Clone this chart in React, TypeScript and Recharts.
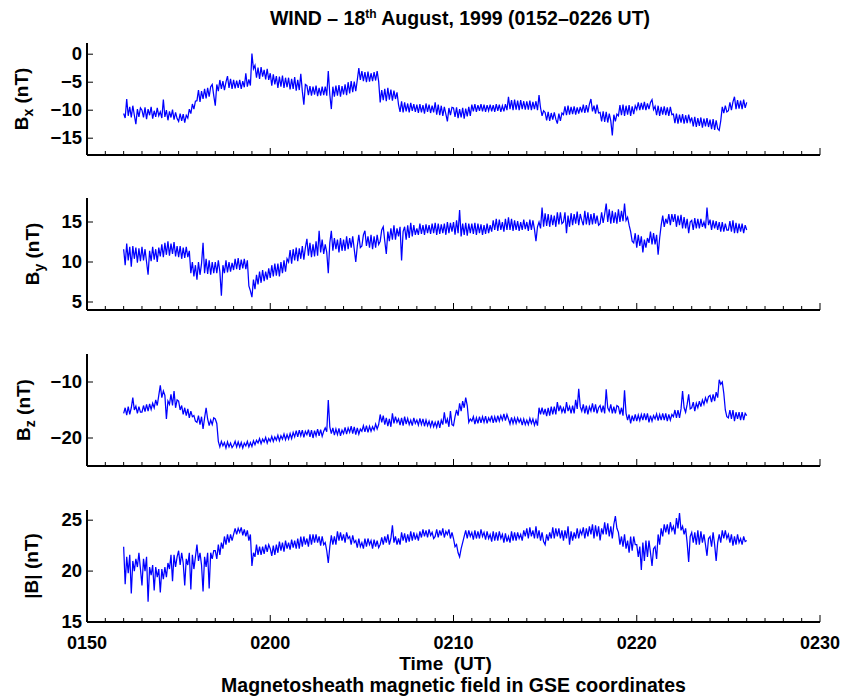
import React from 'react';
import { LineChart, Line, XAxis, YAxis } from 'recharts';

const FONT = '"Liberation Sans", Arial, Helvetica, sans-serif';

// time axis in minutes after 00:00 UT, one sample every 5 s from 01:52
const START_MIN = 112;
const STEP_MIN = 1 / 12;

const MAJOR_TICKS = [110, 120, 130, 140, 150];
const MINUTE_TICKS = Array.from({ length: 41 }, (_, i) => 110 + i);

// values, 12 samples per minute (0152 ... 0226)
const bx = [
  -10.6, -11.4, -8.0, -11.0, -9.4, -11.3, -9.2, -10.9, -12.5, -9.8, -11.2, -9.6,
  -10.0, -11.3, -9.5, -11.6, -9.8, -10.9, -9.4, -11.5, -10.1, -11.2, -9.6, -11.0,
  -10.3, -11.4, -8.1, -11.2, -10.0, -11.8, -10.2, -11.3, -9.9, -11.7, -10.4, -11.5,
  -12.0, -10.6, -11.9, -10.7, -12.2, -10.9, -11.4, -9.8, -10.6, -8.9, -9.8, -8.4,
  -8.3, -6.4, -8.5, -6.6, -8.0, -6.2, -7.9, -6.0, -7.6, -5.8, -5.4, -7.4,
  -9.2, -5.4, -6.6, -4.6, -6.2, -4.8, -6.4, -5.0, -3.9, -6.0, -4.4, -6.2,
  -4.6, -6.1, -4.7, -6.0, -4.6, -6.2, -4.8, -5.9, -3.4, -5.8, -4.5, -5.6,
  0.1, -2.6, -2.0, -4.2, -2.4, -4.4, -2.3, -4.0, -2.8, -4.5, -2.6, -4.6,
  -3.4, -5.6, -3.6, -5.4, -3.9, -6.0, -4.0, -5.8, -3.8, -6.0, -4.2, -5.9,
  -4.2, -6.3, -4.4, -6.2, -4.1, -6.5, -4.6, -6.4, -3.5, -6.6, -9.0, -5.4,
  -5.6, -7.3, -5.7, -7.4, -5.8, -7.2, -5.6, -7.5, -6.0, -7.4, -5.8, -7.3,
  -5.8, -7.4, -3.0, -7.2, -9.8, -5.8, -7.6, -5.6, -7.4, -5.5, -7.6, -5.7,
  -7.2, -5.4, -7.3, -5.0, -7.0, -4.8, -6.8, -4.9, -6.6, -4.6, -2.5, -4.6,
  -3.0, -4.8, -3.2, -5.0, -3.1, -4.9, -3.4, -4.8, -3.2, -4.7, -3.0, -4.9,
  -8.6, -6.4, -8.2, -6.2, -8.4, -6.0, -8.1, -6.3, -8.3, -6.5, -8.0, -6.8,
  -9.0, -10.3, -8.4, -10.4, -8.6, -10.2, -8.8, -10.4, -8.7, -10.1, -8.9, -10.3,
  -9.0, -10.5, -8.9, -10.4, -9.1, -10.6, -8.8, -10.3, -9.0, -10.5, -9.2, -10.4,
  -8.6, -10.8, -9.0, -10.9, -9.2, -11.0, -9.4, -10.7, -12.0, -9.6, -10.9, -9.5,
  -9.6, -11.2, -9.5, -11.4, -9.8, -11.3, -9.6, -11.5, -9.7, -11.1, -9.4, -11.0,
  -9.0, -10.2, -8.9, -10.3, -9.1, -10.1, -8.9, -10.2, -9.0, -10.3, -9.1, -10.1,
  -9.0, -10.2, -9.1, -10.3, -8.9, -10.1, -9.0, -10.3, -9.2, -10.2, -8.9, -10.0,
  -7.6, -9.8, -8.2, -10.0, -8.1, -9.9, -8.3, -10.0, -8.2, -9.8, -8.4, -9.9,
  -8.4, -9.9, -8.3, -10.0, -8.5, -9.8, -8.4, -10.0, -7.3, -9.6, -11.0, -10.1,
  -10.4, -11.8, -10.3, -11.9, -10.5, -11.7, -10.4, -11.6, -12.4, -10.6, -11.9, -10.5,
  -10.8, -9.3, -10.9, -9.2, -10.8, -9.4, -10.7, -9.3, -10.8, -9.5, -10.6, -9.4,
  -10.4, -9.0, -10.5, -9.1, -10.4, -8.9, -8.0, -10.2, -9.2, -10.6, -9.0, -10.5,
  -10.4, -12.0, -10.2, -12.1, -10.3, -12.2, -10.6, -11.9, -14.5, -10.8, -12.0, -10.7,
  -11.0, -9.1, -10.9, -9.0, -11.0, -9.2, -10.8, -9.1, -11.0, -9.3, -10.7, -9.2,
  -9.9, -8.6, -10.0, -8.7, -9.9, -8.5, -10.0, -8.8, -9.8, -8.6, -8.1, -9.9,
  -9.3, -10.9, -9.2, -11.0, -9.4, -10.8, -9.3, -10.9, -9.5, -11.0, -9.4, -10.8,
  -10.7, -12.3, -10.6, -12.4, -10.8, -12.2, -10.7, -12.4, -10.9, -12.3, -10.8, -12.1,
  -11.3, -12.9, -11.2, -13.0, -11.4, -12.8, -11.3, -13.1, -11.5, -12.9, -11.4, -13.0,
  -11.7, -13.4, -11.6, -13.5, -11.8, -13.3, -13.6, -11.9, -9.4, -10.5, -9.2, -10.3,
  -10.1, -8.6, -10.0, -8.5, -7.6, -9.8, -8.2, -9.7, -8.3, -9.8, -8.1, -9.6,
  -8.6,
];

const by = [
  11.6, 9.6, 12.3, 10.2, 11.9, 9.4, 12.0, 10.4, 11.8, 9.9, 11.7, 10.1,
  11.9, 10.2, 11.6, 10.0, 8.4, 11.4, 10.1, 11.9, 10.3, 11.6, 10.0, 11.8,
  10.7, 12.2, 10.6, 12.4, 10.9, 12.6, 10.8, 12.3, 11.0, 12.5, 10.7, 12.0,
  10.6, 12.0, 10.4, 11.8, 10.5, 11.9, 10.6, 11.4, 8.6, 10.0, 8.2, 9.6,
  7.8, 10.0, 8.4, 9.8, 12.4, 8.6, 10.4, 8.5, 10.2, 8.4, 10.0, 8.6,
  10.0, 8.6, 10.2, 8.8, 5.8, 9.6, 8.6, 10.2, 8.7, 10.0, 8.8, 9.9,
  9.0, 10.4, 9.1, 10.5, 9.0, 10.3, 9.2, 10.4, 9.1, 10.2, 7.0, 6.4,
  5.6, 7.8, 6.6, 8.4, 7.2, 8.8, 7.4, 9.0, 7.6, 8.8, 7.8, 9.2,
  8.0, 9.6, 8.2, 9.8, 8.3, 9.8, 8.2, 10.0, 8.6, 10.2, 8.8, 10.4,
  10.0, 11.5, 9.8, 11.6, 10.2, 11.8, 10.1, 11.7, 10.4, 12.0, 10.3, 11.8,
  12.9, 10.8, 12.4, 10.6, 12.2, 10.7, 12.6, 10.8, 13.9, 11.2, 12.8, 11.0,
  12.2, 11.2, 8.6, 12.4, 13.9, 11.4, 13.0, 11.6, 12.8, 11.2, 13.0, 11.4,
  12.8, 11.4, 13.2, 11.6, 13.0, 11.8, 13.2, 11.6, 10.0, 12.0, 13.4, 11.8,
  12.0, 13.4, 13.9, 12.0, 13.2, 11.8, 13.4, 11.6, 13.2, 11.8, 13.4, 12.2,
  12.6, 14.0, 14.4, 12.6, 11.0, 13.8, 12.6, 14.2, 12.8, 14.6, 12.8, 14.2,
  13.2, 14.4, 10.2, 13.8, 14.4, 12.8, 14.6, 13.0, 14.9, 13.2, 14.6, 13.4,
  14.2, 13.4, 14.8, 13.5, 14.6, 13.4, 14.7, 13.6, 14.6, 13.5, 14.8, 13.6,
  14.9, 13.4, 14.8, 13.5, 14.7, 13.6, 14.8, 13.4, 15.0, 13.6, 14.9, 13.8,
  15.0, 13.4, 15.2, 13.6, 16.5, 13.2, 14.8, 13.4, 14.9, 13.3, 14.8, 13.6,
  14.8, 13.5, 14.9, 13.4, 14.8, 13.6, 14.7, 13.4, 14.6, 13.5, 14.8, 13.6,
  14.6, 13.8, 15.2, 14.0, 15.4, 13.9, 15.3, 14.0, 15.0, 13.8, 15.4, 14.0,
  15.6, 14.0, 15.4, 13.9, 15.2, 14.0, 15.1, 13.9, 15.0, 14.0, 15.3, 14.1,
  15.0, 13.9, 15.3, 14.0, 15.2, 14.1, 12.6, 14.4, 15.0, 14.2, 16.8, 14.4,
  16.1, 14.5, 16.0, 14.4, 15.9, 14.6, 15.8, 14.4, 16.2, 14.7, 16.2, 14.8,
  15.0, 16.2, 13.6, 15.8, 14.4, 16.1, 14.6, 16.0, 14.8, 16.3, 14.6, 16.0,
  15.2, 14.6, 16.4, 14.7, 16.2, 14.6, 16.0, 14.7, 16.1, 14.8, 15.8, 14.6,
  14.8, 16.2, 14.9, 16.0, 17.3, 15.0, 16.6, 14.8, 16.4, 14.9, 16.2, 14.8,
  16.6, 15.0, 16.4, 15.1, 17.3, 15.2, 15.6, 14.6, 13.8, 12.6, 12.4, 13.6,
  11.8, 13.4, 12.0, 13.2, 11.2, 12.8, 11.8, 13.0, 12.4, 13.8, 12.2, 13.6,
  12.2, 13.4, 10.9, 13.0, 14.6, 15.8, 14.4, 15.4, 14.8, 16.0, 14.6, 16.0,
  15.0, 16.0, 14.4, 15.8, 14.6, 15.9, 14.2, 15.6, 14.2, 15.4, 13.6, 15.0,
  15.2, 14.0, 15.5, 14.2, 15.4, 14.2, 15.4, 14.4, 15.0, 14.2, 16.8, 14.6,
  15.3, 14.0, 15.2, 14.2, 15.1, 14.0, 15.0, 13.8, 15.0, 13.8, 14.8, 14.0,
  14.0, 15.1, 13.8, 15.2, 13.6, 14.9, 13.6, 14.8, 13.8, 14.8, 13.6, 14.6,
  14.0,
];

const bz = [
  -15.6, -14.6, -15.9, -14.4, -15.8, -14.6, -12.8, -15.0, -14.3, -15.6, -14.4, -15.4,
  -15.4, -14.2, -15.3, -14.0, -15.2, -13.9, -14.9, -13.8, -14.6, -13.2, -14.2, -12.4,
  -10.6, -12.8, -11.6, -12.4, -16.6, -13.4, -14.0, -12.2, -14.2, -11.6, -14.6, -13.2,
  -13.4, -15.0, -14.2, -15.8, -14.6, -16.0, -14.8, -16.4, -15.2, -16.2, -16.0, -17.0,
  -17.2, -16.0, -17.6, -16.2, -18.4, -16.4, -14.6, -16.6, -17.8, -16.8, -17.6, -16.4,
  -16.6, -17.4, -20.6, -21.6, -20.6, -21.4, -20.8, -21.8, -20.7, -21.6, -20.9, -21.7,
  -21.3, -20.6, -21.6, -20.7, -21.6, -20.8, -21.8, -20.9, -21.4, -20.6, -21.6, -20.8,
  -21.5, -20.5, -21.2, -20.4, -20.9, -20.1, -21.0, -20.2, -20.7, -19.9, -20.9, -20.1,
  -20.6, -19.7, -20.6, -19.8, -20.4, -19.5, -20.5, -19.6, -20.2, -19.3, -20.3, -19.4,
  -20.2, -19.2, -20.1, -19.0, -19.8, -18.7, -19.8, -18.6, -19.6, -18.6, -19.9, -18.8,
  -19.4, -18.5, -19.8, -18.6, -20.0, -18.7, -19.6, -18.4, -19.6, -18.5, -19.7, -18.8,
  -18.2, -18.9, -13.2, -18.0, -19.2, -18.2, -19.5, -18.4, -19.4, -18.3, -19.6, -18.6,
  -19.2, -18.1, -19.3, -18.2, -19.0, -17.9, -19.2, -18.0, -19.4, -18.2, -19.3, -18.4,
  -18.8, -17.8, -18.9, -17.8, -19.0, -17.9, -18.8, -18.0, -18.6, -17.5, -18.4, -17.6,
  -15.8, -17.2, -16.0, -17.6, -16.4, -17.9, -16.6, -18.0, -15.6, -17.4, -16.2, -17.2,
  -16.6, -17.7, -16.4, -17.8, -16.2, -17.5, -16.5, -17.6, -16.8, -17.8, -16.4, -17.4,
  -16.8, -17.7, -16.5, -17.6, -16.6, -17.9, -16.8, -17.8, -17.0, -18.0, -16.9, -18.0,
  -17.2, -18.1, -16.9, -18.2, -16.8, -17.6, -15.4, -17.4, -16.6, -18.0, -15.2, -17.6,
  -17.8, -16.2, -15.0, -16.0, -13.8, -15.2, -13.4, -14.6, -12.8, -14.2, -17.2, -16.6,
  -17.0, -16.2, -17.5, -16.4, -17.4, -16.2, -17.3, -16.2, -17.2, -16.1, -17.4, -16.4,
  -17.0, -16.0, -17.3, -16.2, -17.2, -16.0, -17.0, -16.0, -16.8, -15.7, -16.9, -15.8,
  -16.6, -17.5, -16.3, -17.4, -16.4, -17.4, -16.4, -17.2, -16.6, -17.7, -16.6, -17.6,
  -16.8, -17.6, -16.5, -17.4, -16.6, -17.7, -16.8, -17.8, -14.6, -15.8, -14.6, -15.8,
  -14.8, -16.1, -14.6, -16.0, -14.4, -15.8, -14.4, -15.8, -13.6, -15.2, -14.2, -15.4,
  -14.6, -15.6, -13.6, -15.2, -14.4, -15.6, -14.2, -15.6, -13.2, -14.8, -11.2, -14.4,
  -15.2, -14.0, -15.6, -14.2, -15.8, -14.4, -15.2, -13.8, -15.4, -14.0, -15.6, -14.6,
  -14.2, -15.4, -14.2, -15.6, -11.3, -14.6, -15.2, -14.0, -15.6, -14.4, -15.6, -14.2,
  -14.4, -15.8, -14.6, -16.0, -11.5, -15.6, -16.8, -15.8, -17.4, -16.0, -17.0, -15.8,
  -17.0, -15.9, -16.9, -15.8, -16.8, -15.6, -16.8, -15.6, -17.2, -16.0, -17.0, -16.0,
  -16.6, -15.7, -16.9, -15.8, -16.8, -15.6, -16.8, -15.6, -17.0, -15.8, -16.8, -15.8,
  -16.2, -15.0, -16.4, -15.0, -16.4, -14.8, -11.6, -14.6, -15.4, -14.0, -12.2, -14.8,
  -14.6, -13.6, -15.2, -13.8, -14.6, -13.4, -14.4, -13.2, -14.0, -12.8, -13.6, -12.6,
  -12.4, -13.6, -12.2, -13.4, -11.8, -12.8, -9.6, -10.4, -10.0, -12.0, -15.0, -16.2,
  -16.4, -15.0, -16.6, -15.0, -17.0, -15.4, -16.6, -15.4, -16.8, -15.4, -16.8, -15.6,
  -16.0,
];

const bmag = [
  22.4, 18.7, 21.4, 19.8, 21.6, 17.8, 21.0, 20.0, 21.2, 20.4, 21.8, 20.2,
  18.6, 21.2, 20.0, 21.4, 17.0, 20.4, 19.6, 20.6, 18.1, 20.4, 19.4, 20.2,
  17.9, 20.2, 19.2, 20.4, 19.4, 20.8, 20.2, 21.6, 19.0, 21.6, 20.4, 21.4,
  22.0, 20.6, 21.8, 20.8, 18.6, 21.2, 20.6, 21.8, 18.2, 21.6, 20.2, 21.4,
  22.6, 21.0, 21.8, 20.6, 18.0, 21.4, 20.4, 21.8, 18.3, 21.8, 21.2, 22.0,
  22.0, 21.2, 22.6, 21.6, 22.8, 22.2, 23.4, 22.6, 23.6, 22.8, 23.6, 23.0,
  23.6, 24.2, 23.6, 24.2, 23.8, 24.3, 23.5, 24.1, 23.4, 24.0, 23.0, 23.6,
  20.5, 21.8, 21.4, 22.6, 21.6, 22.4, 21.6, 22.4, 21.7, 22.6, 21.9, 22.6,
  22.2, 21.5, 22.5, 21.6, 22.6, 21.8, 22.9, 22.0, 22.8, 21.9, 23.0, 22.2,
  22.8, 22.1, 23.1, 22.3, 23.0, 22.2, 23.2, 22.2, 23.4, 22.4, 23.4, 22.6,
  23.2, 22.4, 23.6, 22.6, 23.6, 22.8, 23.6, 22.8, 23.4, 22.5, 23.4, 22.6,
  22.8, 22.0, 20.8, 22.4, 23.5, 22.6, 23.4, 22.6, 23.9, 23.0, 23.8, 23.0,
  23.6, 22.8, 23.8, 23.2, 23.4, 22.6, 23.5, 22.8, 23.0, 22.3, 23.2, 22.4,
  22.8, 22.2, 23.2, 22.4, 23.2, 22.6, 23.0, 22.2, 23.1, 22.4, 23.0, 22.3,
  22.6, 23.3, 22.6, 23.4, 22.8, 23.6, 22.6, 23.2, 24.5, 22.8, 23.4, 22.6,
  23.2, 22.6, 23.8, 23.0, 23.7, 22.8, 23.6, 22.9, 23.9, 23.0, 23.8, 23.1,
  23.6, 23.0, 23.9, 23.3, 24.1, 23.4, 24.0, 23.3, 24.1, 23.5, 23.8, 23.2,
  23.4, 24.1, 23.3, 24.0, 23.5, 24.2, 23.3, 23.9, 23.6, 24.1, 23.2, 23.8,
  23.2, 22.4, 22.6, 21.8, 21.4, 22.2, 22.8, 23.4, 24.0, 23.2, 24.0, 23.4,
  23.8, 23.1, 24.0, 23.2, 23.9, 23.2, 24.1, 23.4, 23.8, 23.1, 23.9, 23.2,
  23.6, 22.9, 23.9, 23.0, 23.8, 23.0, 23.9, 23.2, 23.6, 22.8, 23.7, 22.9,
  23.4, 22.8, 23.9, 23.0, 23.8, 23.0, 23.8, 23.2, 23.6, 23.0, 24.0, 23.4,
  24.2, 23.2, 24.3, 23.4, 24.0, 23.2, 24.4, 23.2, 24.0, 23.0, 23.8, 22.9,
  22.6, 23.6, 23.0, 23.8, 23.2, 24.3, 23.2, 24.2, 23.4, 24.2, 23.2, 24.0,
  23.0, 24.0, 23.2, 24.4, 22.6, 23.9, 23.0, 23.8, 23.2, 24.2, 23.2, 24.0,
  23.6, 24.3, 23.2, 24.2, 23.4, 24.4, 23.6, 24.6, 23.2, 24.5, 23.4, 24.4,
  23.0, 24.2, 23.6, 24.8, 23.6, 24.7, 23.4, 24.4, 23.2, 24.6, 25.4, 24.2,
  23.8, 22.6, 23.4, 22.4, 23.6, 22.2, 23.0, 21.8, 23.4, 22.0, 23.4, 22.6,
  22.6, 21.4, 22.4, 20.1, 22.8, 21.0, 23.0, 21.4, 23.0, 21.8, 20.5, 22.2,
  22.4, 21.2, 23.6, 22.6, 24.2, 23.4, 24.6, 23.8, 24.6, 23.6, 24.8, 24.0,
  24.4, 23.6, 25.2, 24.2, 25.7, 24.0, 24.4, 23.6, 24.2, 22.8, 20.9, 23.4,
  23.8, 22.8, 23.8, 22.6, 24.0, 22.6, 23.9, 22.8, 23.6, 22.6, 21.5, 23.2,
  23.4, 22.4, 23.8, 22.6, 21.0, 22.8, 23.6, 22.8, 24.0, 23.2, 24.0, 23.2,
  23.6, 22.8, 23.6, 22.5, 23.4, 22.6, 23.6, 22.8, 23.2, 22.6, 23.4, 22.9,
  23.0,
];

const toRows = (vals: number[]) => vals.map((v, i) => ({ t: START_MIN + i * STEP_MIN, v }));

const fmtTime = (m: number) => {
  const h = Math.floor(m / 60);
  const mm = m % 60;
  return `${String(h).padStart(2, '0')}${String(mm).padStart(2, '0')}`;
};
const fmtNum = (v: number) => String(v).replace('-', '\u2212');

const panels = [
  { data: bx, domain: [-18, 2], ticks: [-15, -10, -5, 0], main: 'B', sub: 'x', top: 0, mTop: 43, xH: 15, labelX: 28 },
  { data: by, domain: [4, 18], ticks: [5, 10, 15], main: 'B', sub: 'y', top: 170, mTop: 28, xH: 20, labelX: 39 },
  { data: bz, domain: [-25, -5], ticks: [-20, -10], main: 'B', sub: 'z', top: 330, mTop: 24, xH: 24, labelX: 30 },
  { data: bmag, domain: [15, 26], ticks: [15, 20, 25], main: '|B|', sub: '', top: 490, mTop: 20, xH: 74, labelX: 38 },
];

const txt = { fontFamily: FONT, fontWeight: 'bold' as const, fill: '#000' };

const BottomTick = (p: any) => {
  const { x, y, payload, showLabel } = p;
  const major = MAJOR_TICKS.includes(payload.value);
  return (
    <g>
      <line x1={x} y1={y} x2={x} y2={y - (major ? 7 : 4)} stroke="#000" strokeWidth={1} />
      {showLabel && major && (
        <text x={x} y={y + 26.5} textAnchor="middle" fontSize={18} {...txt}>
          {fmtTime(payload.value)}
        </text>
      )}
    </g>
  );
};

const TopTick = (p: any) => {
  const { x, y, payload } = p;
  const major = MAJOR_TICKS.includes(payload.value);
  return <line x1={x} y1={y} x2={x} y2={y + (major ? 7 : 4)} stroke="#000" strokeWidth={1} />;
};

const LeftTick = (p: any) => {
  const { x, y, payload } = p;
  return (
    <g>
      <line x1={x} y1={y} x2={x + 6} y2={y} stroke="#000" strokeWidth={1} />
      <text x={x - 5} y={y} dy="0.34em" textAnchor="end" fontSize={18.5} {...txt}>
        {fmtNum(payload.value)}
      </text>
    </g>
  );
};

const RightTick = (p: any) => {
  const { x, y } = p;
  return <line x1={x} y1={y} x2={x - 6} y2={y} stroke="#000" strokeWidth={1} />;
};

const YTitle = (p: any) => {
  const { viewBox, main, sub, bx: baseX } = p;
  const cy = viewBox.y + viewBox.height / 2;
  return (
    <text transform={`translate(${baseX},${cy}) rotate(-90)`} textAnchor="middle" fontSize={19} {...txt}>
      {main}
      {sub ? (
        <>
          <tspan dy={5} fontSize={14}>{sub}</tspan>
          <tspan dy={-5}> (nT)</tspan>
        </>
      ) : (
        ' (nT)'
      )}
    </text>
  );
};

const XTitle = (p: any) => {
  const { viewBox } = p;
  const cx = viewBox.x + viewBox.width / 2;
  return (
    <g>
      <text x={cx - 8} y={viewBox.y + 48} textAnchor="middle" fontSize={19} style={{ whiteSpace: 'pre' }} {...txt}>
        {'Time  (UT)'}
      </text>
      <text x={cx} y={viewBox.y + 69.5} textAnchor="middle" fontSize={19.5} {...txt}>
        Magnetosheath magnetic field in GSE coordinates
      </text>
    </g>
  );
};

export default function App() {
  return (
    <div style={{ position: 'absolute', left: 0, top: 0, width: 844, height: 696, background: '#fff' }}>
      <div
        style={{
          position: 'absolute',
          top: 7,
          left: 60,
          width: 800,
          textAlign: 'center',
          fontFamily: FONT,
          fontWeight: 'bold',
          fontSize: 19.5,
          lineHeight: '22px',
        }}
      >
        WIND – 18<sup style={{ fontSize: 12, lineHeight: 0 }}>th</sup> August, 1999 (0152–0226 UT)
      </div>
      {panels.map((pn, i) => {
        const last = i === panels.length - 1;
        return (
          <div key={i} style={{ position: 'absolute', left: 0, top: pn.top }}>
            <LineChart
              width={844}
              height={pn.mTop + 112 + pn.xH}
              data={toRows(pn.data)}
              margin={{ top: pn.mTop, right: 24, bottom: 0, left: 0 }}
            >
              <XAxis
                xAxisId="b"
                dataKey="t"
                type="number"
                domain={[110, 150]}
                ticks={MINUTE_TICKS}
                interval={0}
                height={pn.xH}
                tickSize={0}
                tickMargin={0}
                tickLine={false}
                axisLine={{ stroke: '#000', strokeWidth: 2 }}
                tick={(p: any) => <BottomTick {...p} showLabel={last} />}
                label={last ? <XTitle /> : undefined}
              />
              <XAxis
                xAxisId="t"
                orientation="top"
                dataKey="t"
                type="number"
                domain={[110, 150]}
                ticks={MINUTE_TICKS}
                interval={0}
                height={0}
                tickSize={0}
                tickMargin={0}
                tickLine={false}
                axisLine={{ stroke: '#000', strokeWidth: 2 }}
                tick={(p: any) => <TopTick {...p} />}
              />
              <YAxis
                yAxisId="l"
                type="number"
                domain={pn.domain}
                ticks={pn.ticks}
                interval={0}
                width={87}
                tickSize={0}
                tickMargin={0}
                tickLine={false}
                axisLine={{ stroke: '#000', strokeWidth: 2 }}
                tick={(p: any) => <LeftTick {...p} />}
                label={<YTitle main={pn.main} sub={pn.sub} bx={pn.labelX} />}
              />
              <YAxis
                yAxisId="r"
                orientation="right"
                type="number"
                domain={pn.domain}
                ticks={pn.ticks}
                interval={0}
                width={0}
                tickSize={0}
                tickMargin={0}
                tickLine={false}
                axisLine={{ stroke: '#000', strokeWidth: 2 }}
                tick={(p: any) => <RightTick {...p} />}
              />
              <Line
                xAxisId="b"
                yAxisId="l"
                type="linear"
                dataKey="v"
                stroke="#0000ff"
                strokeWidth={1.25}
                dot={false}
                isAnimationActive={false}
              />
            </LineChart>
          </div>
        );
      })}
    </div>
  );
}
